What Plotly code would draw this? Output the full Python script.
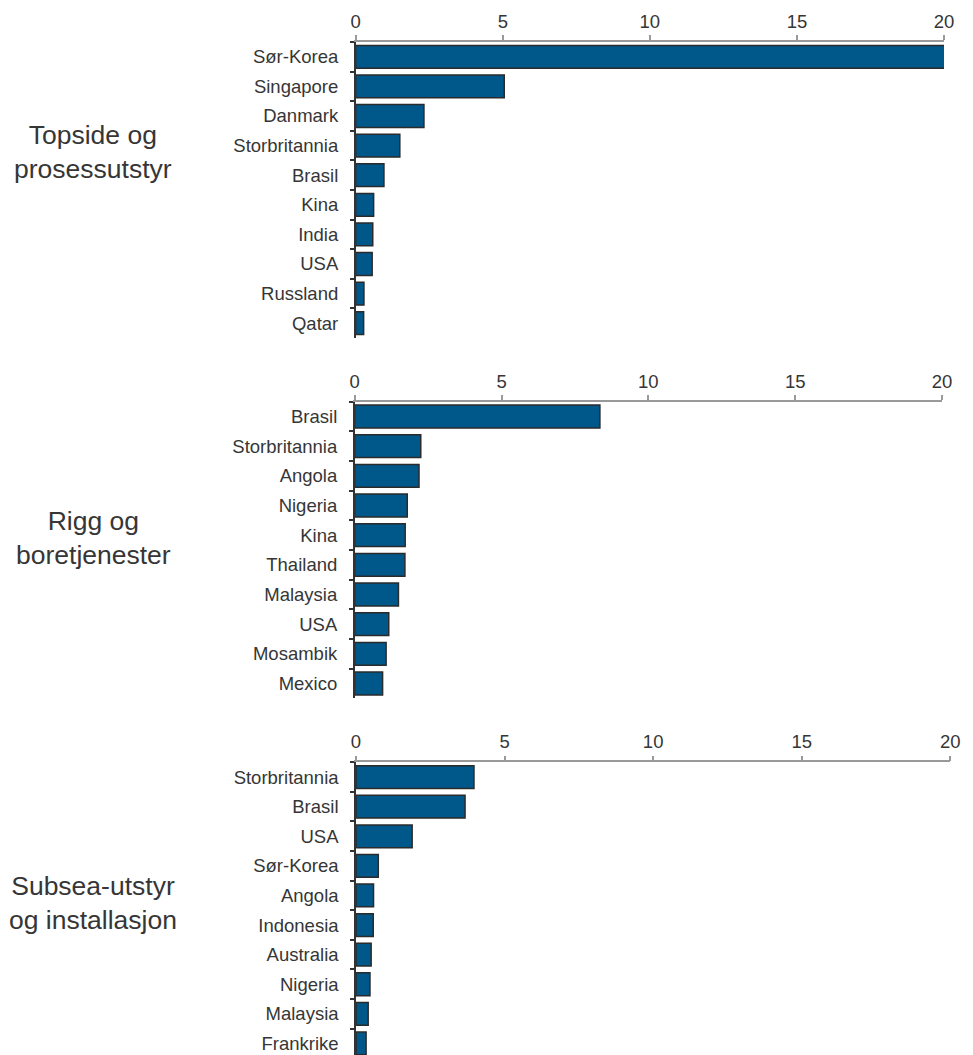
import plotly.graph_objects as go

# Panel 1: Topside og prosessutstyr
topside_countries = ["Sør-Korea", "Singapore", "Danmark", "Storbritannia", "Brasil",
                     "Kina", "India", "USA", "Russland", "Qatar"]
topside_values = [20.07, 5.05, 2.32, 1.5, 0.96, 0.61, 0.58, 0.56, 0.28, 0.27]

# Panel 2: Rigg og boretjenester
rigg_countries = ["Brasil", "Storbritannia", "Angola", "Nigeria", "Kina",
                  "Thailand", "Malaysia", "USA", "Mosambik", "Mexico"]
rigg_values = [8.35, 2.25, 2.19, 1.79, 1.72, 1.71, 1.49, 1.16, 1.07, 0.95]

# Panel 3: Subsea-utstyr og installasjon
subsea_countries = ["Storbritannia", "Brasil", "USA", "Sør-Korea", "Angola",
                    "Indonesia", "Australia", "Nigeria", "Malaysia", "Frankrike"]
subsea_values = [3.97, 3.67, 1.89, 0.75, 0.59, 0.58, 0.51, 0.47, 0.41, 0.34]

panel_titles = ["Topside og<br>prosessutstyr", "Rigg og<br>boretjenester",
                "Subsea-utstyr<br>og installasjon"]
x_ticks = [0, 5, 10, 15, 20]

W, H = 973, 1055
BAR = "#00578a"
TXT = "#363636"
FONT = "Liberation Sans, Arial, sans-serif"

# pixel layout of each panel: (left, right, top, bottom, y-range upper)
panels = [
    (355.7, 944.0, 42.0, 338.0, 9.5),
    (354.7, 942.0, 401.7, 698.3, 9.5),
    (356.0, 950.3, 762.3, 1055.0, 9.39),
]
data = [(topside_countries, topside_values),
        (rigg_countries, rigg_values),
        (subsea_countries, subsea_values)]
title_y = [152, 538, 903]

fig = go.Figure()
layout = {}
for i, ((cats, vals), (l, r, t, b, ymax)) in enumerate(zip(data, panels), start=1):
    xa = "x" if i == 1 else f"x{i}"
    ya = "y" if i == 1 else f"y{i}"
    fig.add_trace(go.Bar(
        x=vals, y=cats, orientation="h", xaxis=xa, yaxis=ya,
        marker=dict(color=BAR, line=dict(color="#2b2b2b", width=1.5)),
        cliponaxis=False, showlegend=False, hoverinfo="x+y",
    ))
    layout[f"xaxis{'' if i == 1 else i}"] = dict(
        domain=[l / W, r / W], anchor=ya, side="top", range=[0, 20],
        tickvals=x_ticks, ticktext=[str(v) for v in x_ticks],
        showgrid=False, zeroline=False, showline=True,
        linecolor="#999999", linewidth=1.5,
        ticks="outside", ticklen=5, tickwidth=1.5, tickcolor="#999999",
        tickfont=dict(family=FONT, size=18.5, color=TXT), fixedrange=True,
        automargin=False,
    )
    layout[f"yaxis{'' if i == 1 else i}"] = dict(
        domain=[1 - b / H, 1 - t / H], anchor=xa, type="category",
        categoryorder="array", categoryarray=cats, range=[ymax, -0.5],
        showgrid=False, zeroline=False, showline=True,
        linecolor="#333333", linewidth=1.5,
        ticks="outside", ticklen=4, tickwidth=1.5, tickcolor="#333333",
        tickson="boundaries", ticklabelstandoff=12,
        tickfont=dict(family=FONT, size=18.5, color=TXT), fixedrange=True,
        automargin=False,
    )

annotations = [
    dict(text=txt, xref="paper", yref="paper", x=93 / W, y=1 - yc / H,
         xanchor="center", yanchor="middle", showarrow=False, align="center",
         font=dict(family=FONT, size=26.5, color=TXT))
    for txt, yc in zip(panel_titles, title_y)
]

fig.update_layout(
    width=W, height=H, margin=dict(l=0, r=0, t=0, b=0, autoexpand=False),
    autosize=False, paper_bgcolor="white", plot_bgcolor="white",
    bargap=0.23, annotations=annotations, **layout,
)

fig.write_html("out.html", config={"responsive": False})
